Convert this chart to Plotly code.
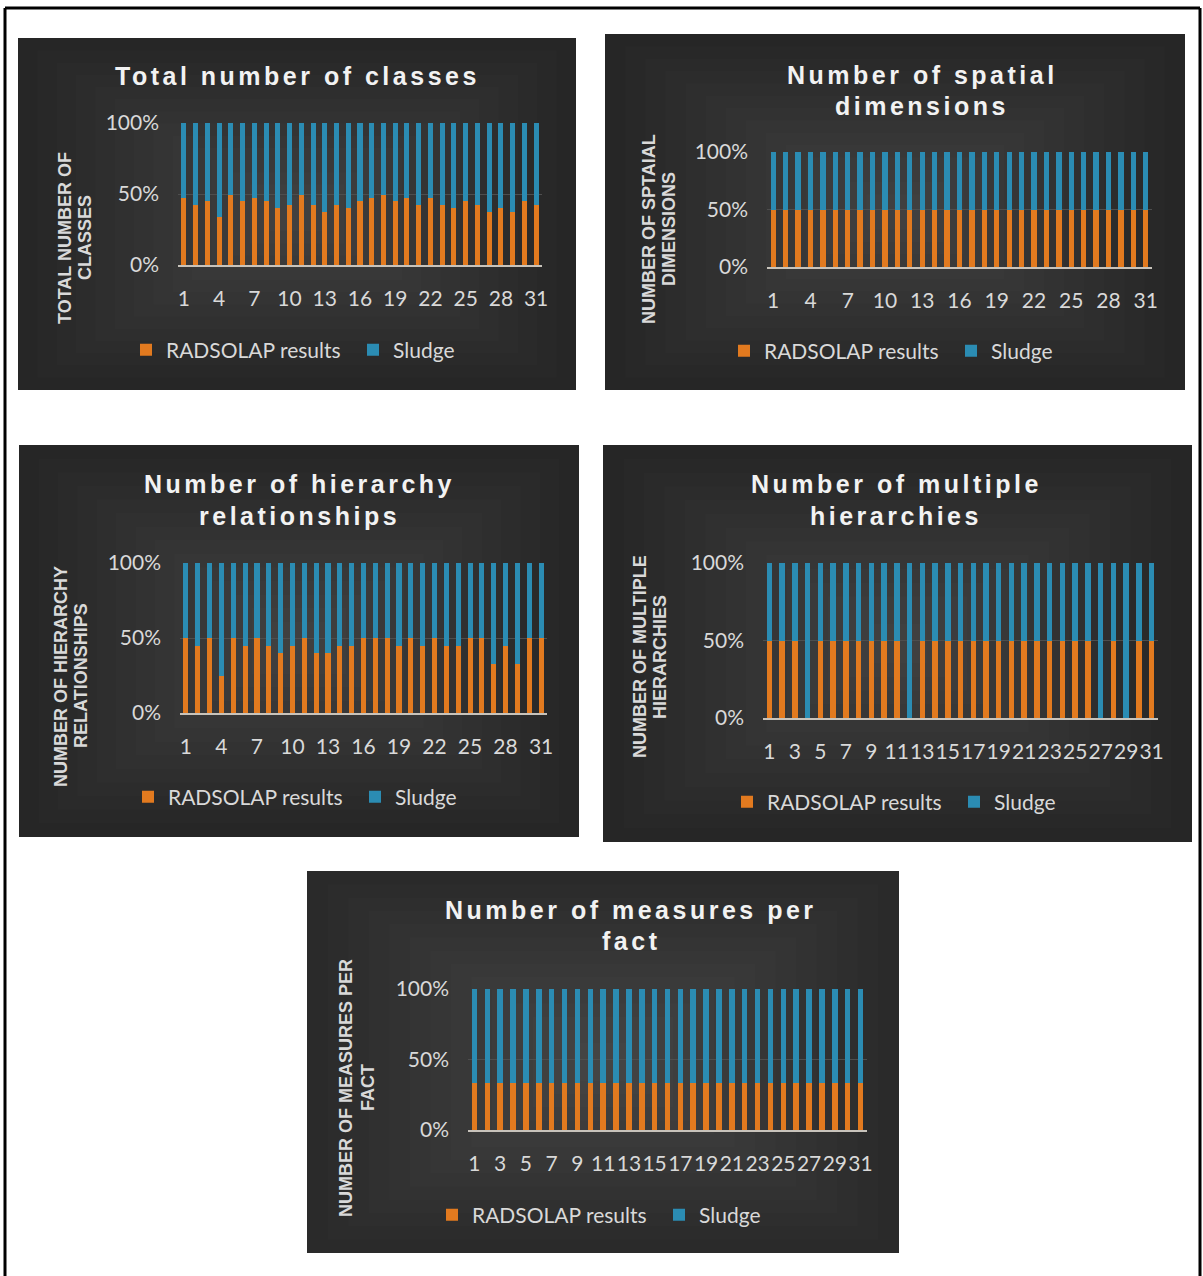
import plotly.graph_objects as go

W, H = 1203, 1276

CATEGORIES = ["1", "2", "3", "4", "5", "6", "7", "8", "9", "10", "11", "12", "13", "14", "15", "16",
              "17", "18", "19", "20", "21", "22", "23", "24", "25", "26", "27", "28", "29", "30", "31"]
TICKS_EVERY_3 = ["1", "4", "7", "10", "13", "16", "19", "22", "25", "28", "31"]
TICKS_EVERY_2 = ["1", "3", "5", "7", "9", "11", "13", "15", "17", "19", "21", "23", "25", "27", "29", "31"]

# Percent shares (RADSOLAP results / Sludge)
classes_radsolap = [47, 42, 45, 34, 49, 45, 47, 45, 40, 42, 49, 42, 37, 42, 40, 45,
                    47, 49, 45, 47, 42, 47, 42, 40, 45, 42, 37, 40, 37, 45, 42]
classes_sludge = [53, 58, 55, 66, 51, 55, 53, 55, 60, 58, 51, 58, 63, 58, 60, 55,
                  53, 51, 55, 53, 58, 53, 58, 60, 55, 58, 63, 60, 63, 55, 58]

spatial_radsolap = [50, 50, 50, 50, 50, 50, 50, 50, 50, 50, 50, 50, 50, 50, 50, 50,
                    50, 50, 50, 50, 50, 50, 50, 50, 50, 50, 50, 50, 50, 50, 50]
spatial_sludge = [50, 50, 50, 50, 50, 50, 50, 50, 50, 50, 50, 50, 50, 50, 50, 50,
                  50, 50, 50, 50, 50, 50, 50, 50, 50, 50, 50, 50, 50, 50, 50]

hier_radsolap = [50, 45, 50, 25, 50, 45, 50, 45, 40, 45, 50, 40, 40, 45, 45, 50,
                 50, 50, 45, 50, 45, 50, 45, 45, 50, 50, 33, 45, 33, 50, 50]
hier_sludge = [50, 55, 50, 75, 50, 55, 50, 55, 60, 55, 50, 60, 60, 55, 55, 50,
               50, 50, 55, 50, 55, 50, 55, 55, 50, 50, 67, 55, 67, 50, 50]

multi_radsolap = [50, 50, 50, 0, 50, 50, 50, 50, 50, 50, 50, 0, 50, 50, 50, 50,
                  50, 50, 50, 50, 50, 50, 50, 50, 50, 50, 0, 50, 0, 50, 50]
multi_sludge = [50, 50, 50, 100, 50, 50, 50, 50, 50, 50, 50, 100, 50, 50, 50, 50,
                50, 50, 50, 50, 50, 50, 50, 50, 50, 50, 100, 50, 100, 50, 50]

measures_radsolap = [33.3, 33.3, 33.3, 33.3, 33.3, 33.3, 33.3, 33.3, 33.3, 33.3, 33.3, 33.3, 33.3, 33.3, 33.3, 33.3,
                     33.3, 33.3, 33.3, 33.3, 33.3, 33.3, 33.3, 33.3, 33.3, 33.3, 33.3, 33.3, 33.3, 33.3, 33.3]
measures_sludge = [66.7, 66.7, 66.7, 66.7, 66.7, 66.7, 66.7, 66.7, 66.7, 66.7, 66.7, 66.7, 66.7, 66.7, 66.7, 66.7,
                   66.7, 66.7, 66.7, 66.7, 66.7, 66.7, 66.7, 66.7, 66.7, 66.7, 66.7, 66.7, 66.7, 66.7, 66.7]

SERIES_NAMES = ["RADSOLAP results", "Sludge"]
COLORS = ["#E27A1F", "#2B8CB3"]

PANELS = [
    dict(rad=classes_radsolap, slu=classes_sludge, ticks=TICKS_EVERY_3,
         box=(18, 38, 576, 390), plot=(178, 542, 123, 265),
         title=[("Total number of classes", 76)], tx=297,
         ytitle=[("TOTAL NUMBER OF", 65), ("CLASSES", 85)], yc=238,
         leg_y=350, leg_x=168),
    dict(rad=spatial_radsolap, slu=spatial_sludge, ticks=TICKS_EVERY_3,
         box=(605, 34, 1185, 390), plot=(767, 1152, 152, 267),
         title=[("Number of spatial", 75), ("dimensions", 106)], tx=922,
         ytitle=[("NUMBER OF SPTAIAL", 649), ("DIMENSIONS", 669)], yc=229,
         leg_y=351, leg_x=766),
    dict(rad=hier_radsolap, slu=hier_sludge, ticks=TICKS_EVERY_3,
         box=(19, 445, 579, 837), plot=(180, 547, 563, 713),
         title=[("Number of hierarchy", 484), ("relationships", 516)], tx=299,
         ytitle=[("NUMBER OF HIERARCHY", 61), ("RELATIONSHIPS", 81)], yc=676,
         leg_y=797, leg_x=170),
    dict(rad=multi_radsolap, slu=multi_sludge, ticks=TICKS_EVERY_2,
         box=(603, 445, 1192, 842), plot=(763, 1158, 563, 718),
         title=[("Number of multiple", 484), ("hierarchies", 516)], tx=896,
         ytitle=[("NUMBER OF MULTIPLE", 640), ("HIERARCHIES", 660)], yc=657,
         leg_y=802, leg_x=769),
    dict(rad=measures_radsolap, slu=measures_sludge, ticks=TICKS_EVERY_2,
         box=(307, 871, 899, 1253), plot=(468, 867, 989, 1130),
         title=[("Number of measures per", 910), ("fact", 941)], tx=631,
         ytitle=[("NUMBER OF MEASURES PER", 346), ("FACT", 368)], yc=1088,
         leg_y=1215, leg_x=474),
]


def px(x):
    return x / W


def py(y):
    return 1 - y / H


fig = go.Figure()
shapes = []
annotations = []
layout = {}

TICK_FONT = dict(family="Lato, Open Sans, sans-serif", size=21, color="#d9d9d9")

for i, p in enumerate(PANELS):
    n = "" if i == 0 else str(i + 1)
    xa, ya = "x" + n, "y" + n
    leg = "legend" + n
    x0, y0, x1, y1 = p["box"]
    base = "#262626" if i < 4 else "#2a2a2a"
    shapes.append(dict(type="rect", xref="paper", yref="paper", x0=px(x0), x1=px(x1),
                       y0=py(y1), y1=py(y0), fillcolor=base, line=dict(width=0), layer="below"))
    steps = 14
    for k in range(1, steps):
        fx = (x1 - x0) * 0.5 * k / steps * 0.97
        fy = (y1 - y0) * 0.5 * k / steps * 0.97
        shapes.append(dict(type="rect", xref="paper", yref="paper",
                           x0=px(x0 + fx), x1=px(x1 - fx), y0=py(y1 - fy), y1=py(y0 + fy),
                           fillcolor="rgba(255,255,255,0.011)", line=dict(width=0), layer="below"))

    for name, vals, col in zip(SERIES_NAMES, [p["rad"], p["slu"]], COLORS):
        fig.add_trace(go.Bar(x=CATEGORIES, y=vals, name=name, marker=dict(color=col, line=dict(width=0)),
                             xaxis=xa, yaxis=ya, legend=leg, showlegend=True))

    gx0, gx1, gyt, gyb = p["plot"]
    layout["xaxis" + n] = dict(domain=[px(gx0), px(gx1)], anchor=ya, type="category",
                               categoryorder="array", categoryarray=CATEGORIES,
                               tickmode="array", tickvals=p["ticks"], ticktext=p["ticks"],
                               tickangle=0, showgrid=False, showline=True, linecolor="#c8c3bb",
                               linewidth=2, ticks="", tickfont=TICK_FONT, ticklabelstandoff=14,
                               zeroline=False, fixedrange=True, automargin=False)
    layout["yaxis" + n] = dict(domain=[py(gyb), py(gyt)], anchor=xa, range=[0, 100],
                               tickmode="array", tickvals=[0, 50, 100], ticktext=["0%", "50%", "100%"],
                               showgrid=True, gridcolor="#4e4e4e", gridwidth=1, zeroline=False,
                               showline=False, ticks="", tickfont=TICK_FONT, ticklabelstandoff=18,
                               fixedrange=True, automargin=False)
    for text, ty in p["title"]:
        annotations.append(dict(text="<b><span style='letter-spacing:3.5px'>" + text + "</span></b>",
                                x=px(p["tx"]), y=py(ty), xref="paper", yref="paper",
                                showarrow=False, xanchor="center", yanchor="middle",
                                font=dict(family="Liberation Sans, Arial, sans-serif", size=25, color="#f2f2f2")))
    for text, tx in p["ytitle"]:
        annotations.append(dict(text="<b>" + text + "</b>", x=px(tx), y=py(p["yc"]), xref="paper", yref="paper",
                                showarrow=False, xanchor="center", yanchor="middle", textangle=-90,
                                font=dict(family="Liberation Sans, Arial, sans-serif", size=18, color="#d9d9d9")))
    layout[leg] = dict(orientation="h", x=px(p["leg_x"] - 42), y=py(p["leg_y"]), xanchor="left", yanchor="middle",
                       xref="paper", yref="paper", bgcolor="rgba(0,0,0,0)", borderwidth=0,
                       font=dict(family="Lato, Open Sans, sans-serif", size=21, color="#d9d9d9"),
                       entrywidth=182, entrywidthmode="pixels", itemclick=False, itemdoubleclick=False,
                       traceorder="normal")

# outer frame of the figure
shapes.append(dict(type="line", xref="paper", yref="paper", x0=px(5), x1=px(5), y0=0, y1=py(8),
                   line=dict(color="black", width=3)))
shapes.append(dict(type="line", xref="paper", yref="paper", x0=px(5), x1=px(1200), y0=py(8), y1=py(8),
                   line=dict(color="black", width=3)))
shapes.append(dict(type="line", xref="paper", yref="paper", x0=px(1200), x1=px(1200), y0=0, y1=py(8),
                   line=dict(color="black", width=3)))

fig.update_layout(template="none", width=W, height=H,
                  margin=dict(l=0, r=0, t=0, b=0, pad=0, autoexpand=False),
                  paper_bgcolor="white", plot_bgcolor="rgba(0,0,0,0)",
                  barmode="stack", bargap=0.57, shapes=shapes, annotations=annotations, **layout)

fig.write_html("out.html", config={"displayModeBar": False},
               post_script="document.body.style.margin='0';document.body.style.overflow='hidden';")
